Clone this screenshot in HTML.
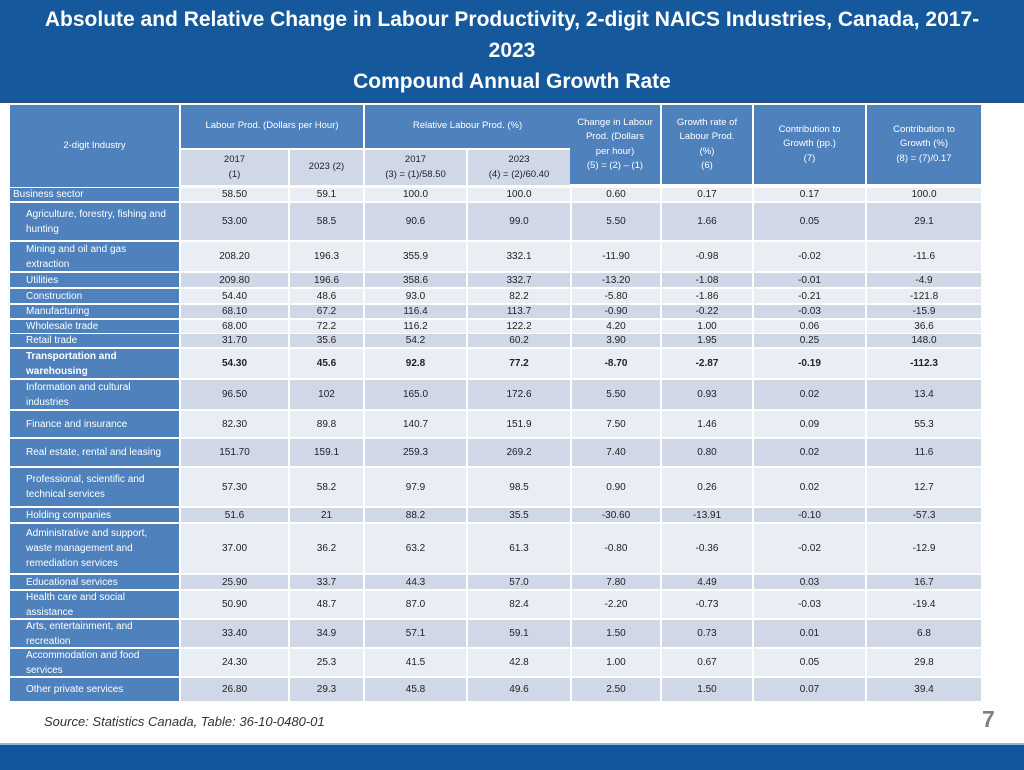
<!DOCTYPE html>
<html><head><meta charset="utf-8">
<style>
body{margin:0;width:1024px;height:768px;position:relative;background:#fff;font-family:"Liberation Sans",sans-serif;overflow:hidden}
#title{position:absolute;left:0;top:0;width:1024px;height:101px;background:#15599c;border-bottom:2px solid #2b4f78;color:#fff;font-weight:bold;text-align:center}
.tl{position:absolute;left:0;width:1024px;text-align:center;font-size:21px;line-height:24px;white-space:nowrap}
.tl span{display:inline-block;transform:scaleX(1.0);transform-origin:center}
.c{position:absolute;box-sizing:border-box;display:flex;align-items:center;justify-content:center;text-align:center;font-size:10px;color:#222;line-height:15px}
.h{background:#4f81bd;color:#fff;font-size:9.5px;line-height:14.5px}
.sh{background:#d0d8e8;color:#222;font-size:9.5px;line-height:14.5px}
.lab{background:#4f81bd;color:#fff;justify-content:flex-start;text-align:left;padding-left:16px;padding-right:10px;font-size:10px;line-height:15px}
#footer{position:absolute;left:0;top:743px;width:1024px;height:25px;background:#11579b;border-top:2px solid #9cb4d4}
</style></head><body>
<div id="title">
<div class="tl" style="top:8px"><span>Absolute and Relative Change in Labour Productivity, 2-digit NAICS Industries, Canada, 2017-</span></div>
<div class="tl" style="top:39px"><span>2023</span></div>
<div class="tl" style="top:70px"><span>Compound Annual Growth Rate</span></div>
</div>
<div id="tbl"></div>
<div style="position:absolute;left:44px;top:714px;font-size:13px;font-style:italic;color:#333">Source: Statistics Canada, Table: 36-10-0480-01</div>
<div style="position:absolute;left:982px;top:706px;font-size:23px;font-weight:bold;color:#808080">7</div>
<div id="footer"></div>
<script>
const industries=["Business sector","Agriculture, forestry, fishing and hunting","Mining and oil and gas extraction","Utilities","Construction","Manufacturing","Wholesale trade","Retail trade","Transportation and warehousing","Information and cultural industries","Finance and insurance","Real estate, rental and leasing","Professional, scientific and technical services","Holding companies","Administrative and support, waste management and remediation services","Educational services","Health care and social assistance","Arts, entertainment, and recreation","Accommodation and food services","Other private services"];
const lp2017=["58.50","53.00","208.20","209.80","54.40","68.10","68.00","31.70","54.30","96.50","82.30","151.70","57.30","51.6","37.00","25.90","50.90","33.40","24.30","26.80"];
const lp2023=["59.1","58.5","196.3","196.6","48.6","67.2","72.2","35.6","45.6","102","89.8","159.1","58.2","21","36.2","33.7","48.7","34.9","25.3","29.3"];
const rel2017=["100.0","90.6","355.9","358.6","93.0","116.4","116.2","54.2","92.8","165.0","140.7","259.3","97.9","88.2","63.2","44.3","87.0","57.1","41.5","45.8"];
const rel2023=["100.0","99.0","332.1","332.7","82.2","113.7","122.2","60.2","77.2","172.6","151.9","269.2","98.5","35.5","61.3","57.0","82.4","59.1","42.8","49.6"];
const change=["0.60","5.50","-11.90","-13.20","-5.80","-0.90","4.20","3.90","-8.70","5.50","7.50","7.40","0.90","-30.60","-0.80","7.80","-2.20","1.50","1.00","2.50"];
const growth=["0.17","1.66","-0.98","-1.08","-1.86","-0.22","1.00","1.95","-2.87","0.93","1.46","0.80","0.26","-13.91","-0.36","4.49","-0.73","0.73","0.67","1.50"];
const contribPP=["0.17","0.05","-0.02","-0.01","-0.21","-0.03","0.06","0.25","-0.19","0.02","0.09","0.02","0.02","-0.10","-0.02","0.03","-0.03","0.01","0.05","0.07"];
const contribPct=["100.0","29.1","-11.6","-4.9","-121.8","-15.9","36.6","148.0","-112.3","13.4","55.3","11.6","12.7","-57.3","-12.9","16.7","-19.4","6.8","29.8","39.4"];
const rowTops=[188,203,242,273,289,305,320,334,349,380,411,439,468,508,524,575,591,620,649,678];
const rowBots=[201,240,271,287,303,318,333,347,378,409,437,466,506,522,573,589,618,647,676,701];
const colL=[10,181,290,365,468,572,662,754,867];
const colR=[179,288,363,466,570,660,752,865,981];
const tbl=document.getElementById('tbl');
function cell(x1,x2,y1,y2,cls,html,name){
  const d=document.createElement('div');
  d.className='c '+cls;
  d.style.left=x1+'px';d.style.top=y1+'px';d.style.width=(x2-x1)+'px';d.style.height=(y2-y1)+'px';
  d.innerHTML=html;
  
  
  tbl.appendChild(d);return d;
}
cell(10,179,105,187,'h','2-digit Industry','header-industry');
cell(181,363,105,148,'h','Labour Prod. (Dollars per Hour)','header-labour-prod');
cell(365,570,105,148,'h','Relative Labour Prod. (%)','header-relative-prod');
cell(181,288,150,185,'sh','2017<br>(1)','subheader-lp-2017');
cell(290,363,150,185,'sh','2023 (2)','subheader-lp-2023');
cell(365,466,150,185,'sh','2017<br>(3) = (1)/58.50','subheader-rel-2017');
cell(468,570,150,185,'sh','2023<br>(4) = (2)/60.40','subheader-rel-2023');
cell(570,660,105,184,'h','Change in Labour<br>Prod. (Dollars<br>per hour)<br>(5) = (2) – (1)','header-change');
cell(662,752,105,184,'h','Growth rate of<br>Labour Prod.<br>(%)<br>(6)','header-growth');
cell(754,865,105,184,'h','Contribution to<br>Growth (pp.)<br>(7)','header-contrib-pp');
cell(867,981,105,184,'h','Contribution to<br>Growth (%)<br>(8) = (7)/0.17','header-contrib-pct');
const cols=[lp2017,lp2023,rel2017,rel2023,change,growth,contribPP,contribPct];
industries.forEach((name,i)=>{
  const y1=rowTops[i],y2=rowBots[i];
  const bg=i%2===0?'#e9edf4':'#d0d8e8';
  const bold=name==='Transportation and warehousing';
  const l=cell(colL[0],colR[0],y1,y2,'lab',name,'row-label');
  if(i===0)l.style.paddingLeft='3px';
  if(bold)l.style.fontWeight='bold';
  cols.forEach((arr,j)=>{
    const c=cell(colL[j+1],colR[j+1],y1,y2,'',arr[i],'data-cell');
    c.style.background=bg;
    if(bold)c.style.fontWeight='bold';
  });
});
</script>
</body></html>
